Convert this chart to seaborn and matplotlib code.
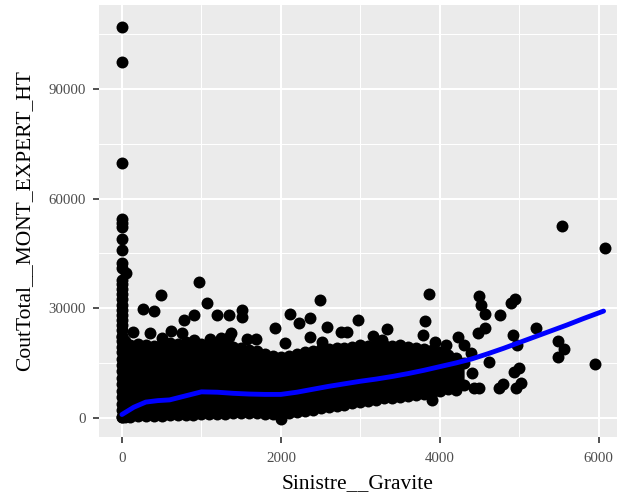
import matplotlib
matplotlib.use("Agg")
import matplotlib.pyplot as plt
import seaborn as sns
import pandas as pd
from matplotlib.ticker import FixedLocator

# Isolated claims (severity, expert amount)
outlier_x = [0, 0, 0, 0, 0, 0, 0, 0, 0, 0, 50,
             970, 487, 1065, 268, 400, 780, 905, 1200, 1345, 142, 352, 507, 612,
             759, 905, 1107, 1241, 1346, 2487, 1506, 1506, 2113, 2226, 2365, 2582,
             1920, 2751, 2834, 2973, 1367, 1576, 1682, 2050, 2365, 2520, 3811, 3786,
             3937, 4072, 4230, 4300, 3862, 3337, 3157, 3274, 4491, 4524, 4566, 4763,
             4889, 4943, 4566, 4482, 4922, 4965, 5216, 5488, 5560, 5488, 5950, 4386,
             4616, 4407, 4491, 4742, 4790, 4931, 4994, 4952, 5027, 5535, 6075, 3903,
             4197, 4428, 2000]
outlier_y = [106900, 97300, 69600, 54500, 53200, 52100, 48800, 45800, 42300, 40900, 39500,
             37200, 33700, 31300, 29700, 29300, 26700, 28100, 28100, 28100, 23500, 23300, 21700, 23800,
             23100, 21300, 21500, 21700, 22200, 32200, 29600, 27600, 28500, 26000, 27400, 24900,
             24500, 23500, 23500, 26700, 23100, 21500, 21500, 20400, 22000, 20800, 26500, 22600,
             20800, 19900, 22200, 19900, 33800, 24200, 22400, 21300, 33300, 30800, 28300, 28100,
             31400, 32500, 24600, 23100, 22600, 19900, 24500, 21100, 18700, 16500, 14700, 17600,
             15400, 12200, 8100, 8100, 9200, 12600, 13500, 8100, 9600, 52600, 46600, 4900,
             7600, 8100, -300]

# Claims stacked at zero severity
column_y = [37800, 36500, 35200, 33800, 32500, 31000, 29600, 28200, 26800, 25300,
            23900, 22400, 21000, 19500, 18000, 16200, 14500, 12800, 11000, 9200,
            7400, 5600, 3800, 2000, 300]

# Dense core of the cloud: lower and upper edge per severity
core_x = [0, 40, 100, 200, 300, 400, 500, 600, 700, 800, 900, 1000, 1100, 1200, 1300,
          1400, 1500, 1600, 1700, 1800, 1900, 2000, 2100, 2200, 2300, 2400, 2500, 2600,
          2700, 2800, 2900, 3000, 3100, 3200, 3300, 3400, 3500, 3600, 3700, 3800, 3900,
          4000, 4100, 4200, 4300]
core_low = [300, 300, 300, 400, 400, 500, 600, 700, 800, 900, 900, 1000, 1000, 1100, 1100,
            1200, 1300, 1300, 1200, 1100, 1000, 800, 1200, 1500, 1800, 2200, 2600, 2900,
            3300, 3600, 4000, 4300, 4700, 5000, 5300, 5500, 5800, 6000, 6300, 6500, 6800,
            7300, 7800, 8400, 9000]
core_high = [22000, 21000, 19800, 20300, 20000, 19600, 20200, 20500, 20300, 20800, 20500, 20300, 20000, 20400, 19800,
             19500, 19000, 18600, 18300, 17400, 16800, 16600, 17000, 17500, 18000, 18400, 18700, 18800,
             19000, 19200, 19500, 19800, 19600, 19900, 20000, 19700, 19800, 19500, 19200, 18800, 18500,
             18000, 17200, 16400, 15000]

# Smoothed conditional mean
trend_x = [0, 150, 300, 450, 600, 800, 1000, 1200, 1400, 1600, 1800, 2000, 2200, 2400,
           2600, 2800, 3000, 3200, 3400, 3600, 3800, 4000, 4200, 4400, 4600, 4800,
           5000, 5200, 5400, 5600, 5800, 6060]
trend_y = [900, 2900, 4300, 4700, 4900, 6000, 7100, 7000, 6700, 6500, 6400, 6400, 7000, 7800,
           8600, 9300, 10000, 10600, 11300, 12100, 13000, 14000, 15000, 16100, 17500, 19000,
           20600, 22200, 23800, 25400, 27100, 29200]

sns.set_theme(style="darkgrid", rc={
    "axes.facecolor": "#EBEBEB",
    "grid.color": "white",
})
plt.rcParams["font.family"] = ["Liberation Serif", "DejaVu Serif"]

fig = plt.figure(figsize=(6.18, 4.93), dpi=100)
ax = fig.add_axes([0.160, 0.114, 0.838, 0.876])

points = pd.DataFrame({
    "Sinistre__Gravite": outlier_x + [0] * len(column_y) + core_x + core_x,
    "CoutTotal__MONT_EXPERT_HT": outlier_y + column_y + core_low + core_high,
})

sns.scatterplot(data=points, x="Sinistre__Gravite", y="CoutTotal__MONT_EXPERT_HT",
                color="black", s=74, linewidth=0, ax=ax, zorder=3)
ax.fill_between(core_x, core_low, core_high, facecolor="black", edgecolor="black",
                linewidth=0.5, zorder=3.5)

trend = pd.DataFrame({"x": trend_x, "y": trend_y})
sns.lineplot(data=trend, x="x", y="y", color="#0000FF", linewidth=3.5,
             estimator=None, sort=False, ax=ax, zorder=4)

ax.set_xlim(-290, 6226)
ax.set_ylim(-5200, 112980)

ax.xaxis.set_major_locator(FixedLocator([0, 2000, 4000, 6000]))
ax.xaxis.set_minor_locator(FixedLocator([1000, 3000, 5000]))
ax.yaxis.set_major_locator(FixedLocator([0, 30000, 60000, 90000]))
ax.yaxis.set_minor_locator(FixedLocator([15000, 45000, 75000, 105000]))
ax.set_xticklabels(["0", "2000", "4000", "6000"])
ax.set_yticklabels(["0", "30000", "60000", "90000"])

ax.grid(which="major", color="white", linewidth=1.5)
ax.grid(which="minor", color="white", linewidth=0.75)
ax.set_axisbelow(True)
for s in ax.spines.values():
    s.set_visible(False)

ax.tick_params(which="major", bottom=True, left=True, length=4.3, width=1.2,
               color="#333333", labelcolor="#4D4D4D", labelsize=10.7, pad=5)
ax.tick_params(axis="x", which="major", pad=7)
ax.tick_params(which="minor", bottom=False, left=False, length=0)

ax.set_xlabel("Sinistre__Gravite", fontsize=15.5, color="black", labelpad=6)
ax.set_ylabel("CoutTotal__MONT_EXPERT_HT", fontsize=15.5, color="black", labelpad=10)

fig.savefig("out.png", dpi=100)
